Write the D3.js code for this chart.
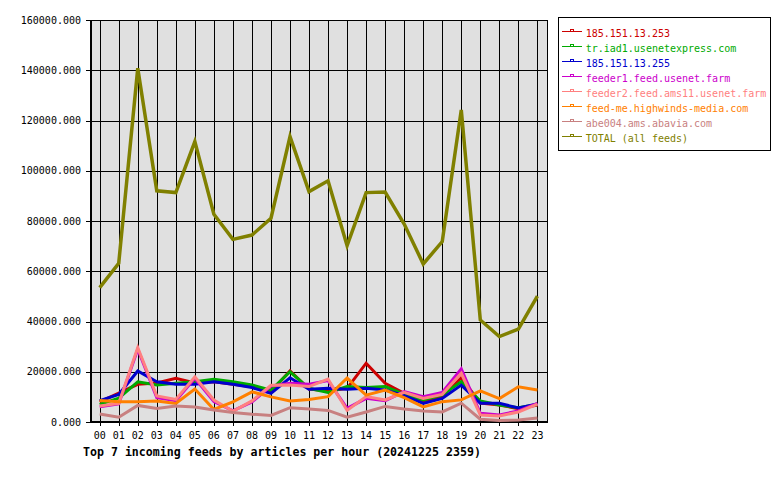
<!DOCTYPE html>
<html><head><meta charset="utf-8">
<script src="https://cdn.jsdelivr.net/npm/d3@7"></script>
<style>body{margin:0;background:#fff}svg{display:block}</style>
</head><body>
<svg id="c" width="780" height="480"></svg>
<script>
const hours = ["00","01","02","03","04","05","06","07","08","09","10","11","12","13","14","15","16","17","18","19","20","21","22","23"];
const yTicks = [0,20000,40000,60000,80000,100000,120000,140000,160000];
const seriesNames = ["185.151.13.253","tr.iad1.usenetexpress.com","185.151.13.255","feeder1.feed.usenet.farm","feeder2.feed.ams11.usenet.farm","feed-me.highwinds-media.com","abe004.ams.abavia.com","TOTAL (all feeds)"];
const s253   = [8000,11500,15000,15500,17400,15500,16000,15000,14000,12100,20300,13100,12300,13400,23400,15400,11400,8100,10100,17600,7500,6800,5300,6800];
const sIad1  = [7000,9500,16000,14700,15400,16000,17000,16000,14700,12700,20000,13400,11800,14100,13700,14100,11000,8760,10750,16000,8360,6770,5700,7000];
const s255   = [8500,11000,20300,16000,15000,15000,16000,15000,13700,11400,17600,13000,13400,13000,13400,12700,10500,7430,9400,14700,7500,7430,5600,7200];
const sFeed1 = [6100,7200,29000,9700,8500,17400,8100,4400,8000,14300,15400,15000,16500,5400,9400,8500,12100,10100,11800,21100,3450,2800,4400,7430];
const sFeed2 = [6400,7400,29600,10350,9000,18000,8760,4300,8400,14600,14700,14100,17100,4600,10100,8760,11800,9400,11000,19400,2800,2400,4000,7150];
const sHigh  = [8600,8100,8100,8360,7400,13100,5000,8000,12000,10000,8360,9000,10100,17500,10700,12700,9700,6000,8100,8800,12400,9300,14000,12700];
const sAbe   = [3200,1900,6600,5400,6400,6000,4800,3800,3100,2600,5700,5200,4600,1900,4000,6200,5200,4400,4000,7500,1100,600,800,1600];
const sTotal = [53500,63200,140800,92000,91300,111600,82700,72700,74400,81100,113600,91700,96000,70200,91300,91500,78800,62900,71800,124200,40600,34000,37000,50100];
const seriesValues = [s253,sIad1,s255,sFeed1,sFeed2,sHigh,sAbe,sTotal];
const colors = ["#cc0000","#00aa00","#0000cc","#cc00cc","#ff8080","#ff8000","#c88080","#808000"];
const title = "Top 7 incoming feeds by articles per hour (20241225 2359)";

const svg = d3.select("#c");
const L=90,R=548,T=20,B=422;
const x = d3.scalePoint().domain(hours).range([99.7,537.4]);
const y = d3.scaleLinear().domain([0,160000]).range([B,T]);
const mono = "'DejaVu Sans Mono', monospace";

svg.append("rect").attr("x",L).attr("y",T).attr("width",R-L).attr("height",B-T).attr("fill","#e0e0e0");

const g = svg.append("g").attr("shape-rendering","crispEdges");
g.selectAll("line.vg").data(hours).join("line")
  .attr("x1",d=>Math.round(x(d))+0.5).attr("x2",d=>Math.round(x(d))+0.5)
  .attr("y1",T).attr("y2",B+4).attr("stroke","#000");
g.selectAll("line.hg").data(yTicks).join("line")
  .attr("x1",L-4).attr("x2",R).attr("y1",d=>Math.round(y(d))+0.5).attr("y2",d=>Math.round(y(d))+0.5)
  .attr("stroke","#000");
g.append("rect").attr("x",L+0.5).attr("y",T+0.5).attr("width",R-L-1).attr("height",B-T-1)
  .attr("fill","none").attr("stroke","#000");
g.append("line").attr("x1",L+0.5).attr("x2",L+0.5).attr("y1",T).attr("y2",B).attr("stroke","#000").attr("stroke-width",2);

svg.selectAll("text.yl").data(yTicks).join("text")
  .attr("x",81).attr("y",d=>y(d)).attr("dy","0.35em").attr("text-anchor","end")
  .attr("font-family",mono).attr("font-size",10).text(d=>d.toFixed(3));
svg.selectAll("text.xl").data(hours).join("text")
  .attr("x",d=>x(d)).attr("y",435).attr("dy","0.35em").attr("text-anchor","middle")
  .attr("font-family",mono).attr("font-size",10).text(d=>d);
svg.append("text").attr("x",83).attr("y",452).attr("dy","0.35em")
  .attr("font-family",mono).attr("font-weight","bold").attr("font-size",11.6).text(title);

const line = d3.line().x((d,i)=>x(hours[i])).y(d=>y(d));
seriesValues.forEach((vals,k)=>{
  svg.append("path").datum(vals).attr("d",line).attr("fill","none")
    .attr("stroke",colors[k]).attr("stroke-width",k===7?3.5:3).attr("stroke-linejoin","miter");
});

// legend
const lg = svg.append("g");
lg.append("rect").attr("x",558.5).attr("y",17.5).attr("width",212).attr("height",133)
  .attr("fill","#fff").attr("stroke","#000").attr("shape-rendering","crispEdges");
seriesNames.forEach((n,k)=>{
  const yy = 33 + k*15;
  lg.append("line").attr("x1",562).attr("x2",582).attr("y1",yy-1.5).attr("y2",yy-1.5)
    .attr("stroke",colors[k]).attr("stroke-width",1).attr("shape-rendering","crispEdges");
  lg.append("rect").attr("x",570.5).attr("y",yy-3.5).attr("width",3).attr("height",2)
    .attr("fill","none").attr("stroke",colors[k]).attr("stroke-width",1).attr("shape-rendering","crispEdges");
  lg.append("text").attr("x",585.7).attr("y",yy).attr("dy","0.35em")
    .attr("font-family",mono).attr("font-size",10).attr("fill",colors[k]).text(n);
});
</script>
</body></html>
